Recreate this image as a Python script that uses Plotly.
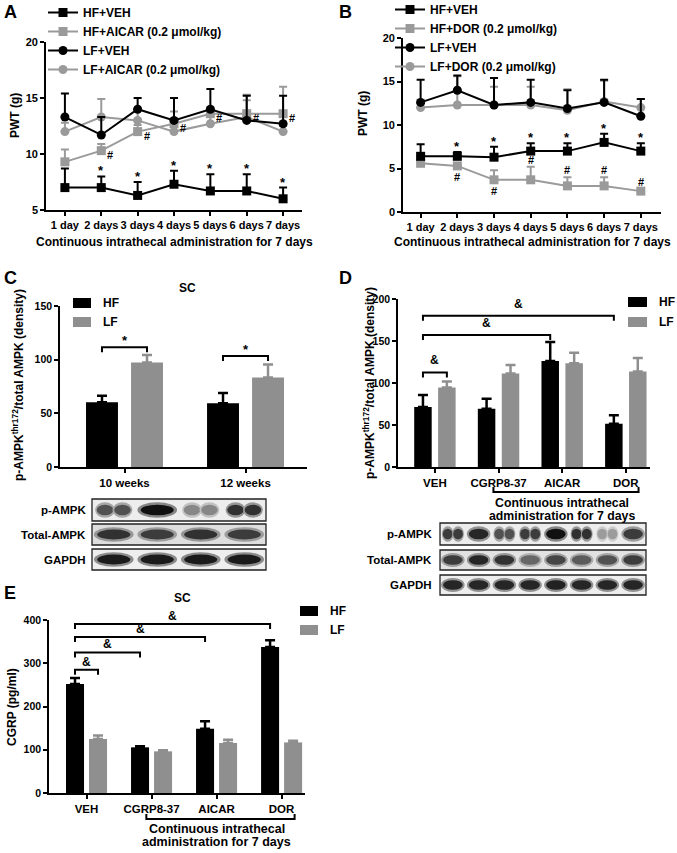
import plotly.graph_objects as go

W, H = 677, 853
FONT = "Arial, 'Liberation Sans', Helvetica, sans-serif"
BLACK = "#000000"
GREY = "#8f8f8f"
LGREY = "#9a9a9a"

# ---------------- data ----------------
days = ["1 day", "2 days", "3 days", "4 days", "5 days", "6 days", "7 days"]

# Panel A  (PWT, g)
a_hf_veh = [7.0, 7.0, 6.3, 7.3, 6.7, 6.7, 6.0]
a_hf_veh_err = [1.7, 1.0, 1.2, 1.2, 1.5, 1.5, 1.0]
a_hf_aicar = [9.3, 10.3, 12.0, 12.7, 13.6, 13.6, 13.6]
a_hf_aicar_err = [1.1, 0.6, 0.6, 1.1, 0.6, 1.7, 2.4]
a_lf_veh = [13.3, 11.7, 14.0, 13.0, 14.0, 13.0, 12.7]
a_lf_veh_err = [2.1, 1.6, 1.0, 2.0, 1.8, 2.2, 2.5]
a_lf_aicar = [12.0, 13.3, 13.0, 12.0, 12.7, 13.3, 12.0]
a_lf_aicar_err = [0.8, 1.6, 1.0, 1.0, 1.0, 1.5, 0.5]

# Panel B  (PWT, g)
b_hf_veh = [6.4, 6.4, 6.3, 7.0, 7.0, 8.0, 7.0]
b_hf_veh_err = [1.4, 0.5, 1.2, 0.9, 0.9, 1.0, 0.9]
b_hf_dor = [5.6, 5.3, 3.7, 3.7, 3.0, 3.0, 2.4]
b_hf_dor_err = [0.2, 0.2, 1.1, 1.5, 1.0, 1.0, 0.3]
b_lf_veh = [12.6, 14.0, 12.3, 12.6, 11.9, 12.6, 11.0]
b_lf_veh_err = [2.6, 1.7, 3.1, 2.6, 2.1, 2.6, 2.0]
b_lf_dor = [12.0, 12.3, 12.3, 12.3, 11.7, 12.7, 12.0]
b_lf_dor_err = [0.9, 3.3, 2.1, 2.1, 2.4, 2.4, 1.0]
b_hash_above = [False, False, False, True, True, True, True]

# Panel C  (p-AMPK / total AMPK)
c_groups = ["10 weeks", "12 weeks"]
c_hf = [60.4, 59.5]
c_hf_err = [6.0, 9.5]
c_lf = [97.3, 83.4]
c_lf_err = [7.0, 12.0]
c_bracket_level = [111.6, 103.5]

# Panel D
d_groups = ["VEH", "CGRP8-37", "AICAR", "DOR"]
d_hf = [71.3, 69.3, 126.3, 51.5]
d_hf_err = [14.5, 12.0, 22.5, 10.0]
d_lf = [94.7, 111.3, 123.6, 113.7]
d_lf_err = [7.0, 10.0, 12.5, 16.0]
d_brackets = [("VEH", "LF", 112.5), ("AICAR", "HF", 157.0), ("DOR", "HF", 180.0)]

# Panel E  (CGRP pg/ml)
e_groups = ["VEH", "CGRP8-37", "AICAR", "DOR"]
e_hf = [252.0, 105.6, 148.7, 337.6]
e_hf_err = [14.0, 2.5, 17.0, 15.4]
e_lf = [124.9, 96.3, 115.6, 117.0]
e_lf_err = [8.0, 2.5, 7.5, 4.0]
e_brackets = [("VEH", "LF", 285.0), ("CGRP8-37", "HF", 325.0), ("AICAR", "HF", 360.7), ("DOR", "HF", 390.7)]

# Western blots (relative band intensity per lane)
blot_rows = ["p-AMPK", "Total-AMPK", "GAPDH"]
blotC_p = [0.7, 1.0, 0.45, 0.85]
blotC_total = [0.85, 0.8, 0.85, 0.8]
blotC_gapdh = [0.95, 0.95, 0.95, 0.95]
blotC_doublet = [True, False, True, True]
blotD_p = [0.8, 0.9, 0.7, 0.8, 1.0, 0.85, 0.35, 0.8]
blotD_total = [0.8, 0.9, 0.85, 0.6, 0.75, 0.65, 0.7, 0.8]
blotD_gapdh = [0.9, 0.9, 0.9, 0.9, 0.92, 0.9, 0.9, 0.9]
blotD_doublet = [True, False, True, True, False, True, True, False]

# ---------------- helpers ----------------
def px_x(p):
    return p / W


def px_y(p):
    return 1 - p / H


GEO = {
    "A": dict(x=(46, 302), y=(42, 210), xr=[-0.52, 6.52], yr=[5, 20], ax="", dt=5),
    "B": dict(x=(403, 661), y=(38, 212), xr=[-0.48, 6.55], yr=[0, 20], ax="2", dt=5),
    "C": dict(x=(60, 307), y=(306, 467), xr=[-0.533, 1.508], yr=[0, 150], ax="3", dt=50),
    "D": dict(x=(398, 650), y=(299, 467), xr=[-0.58, 3.38], yr=[0, 200], ax="4", dt=50),
    "E": dict(x=(49, 305), y=(620, 793), xr=[-0.577, 3.36], yr=[0, 400], ax="5", dt=100),
}


def units_per_px(p):
    g = GEO[p]
    return (g["yr"][1] - g["yr"][0]) / (g["y"][1] - g["y"][0])


def fnt(size):
    return dict(size=size, family=FONT, color="black", weight="bold")


fig = go.Figure()
annotations = []
shapes = []


def pa(text, x, y, size=12, **kw):
    d = dict(text=text, x=px_x(x), y=px_y(y), xref="paper", yref="paper",
             xanchor="center", yanchor="middle", showarrow=False, font=fnt(size))
    d.update(kw)
    annotations.append(d)


def da(p, text, x, y, size=12, **kw):
    ax = GEO[p]["ax"]
    d = dict(text=text, x=x, y=y, xref="x" + ax, yref="y" + ax, showarrow=False,
             xanchor="center", yanchor="middle", font=fnt(size))
    d.update(kw)
    annotations.append(d)


# ---------------- line panels A & B ----------------
def line_trace(p, ys, err, name, color, symbol, leg, rank):
    ax = GEO[p]["ax"]
    n = len(ys)
    return go.Scatter(
        x=list(range(n)), y=ys, mode="lines+markers", name=name,
        line=dict(color=color, width=2),
        marker=dict(symbol=symbol, size=9, color=color),
        error_y=dict(type="data", symmetric=False, array=err, arrayminus=[0] * n,
                     color=color, thickness=2, width=4),
        xaxis="x" + ax, yaxis="y" + ax, legend=leg, legendrank=rank, cliponaxis=False)


# draw grey first, black on top; legend order via rank
fig.add_trace(line_trace("A", a_lf_aicar, a_lf_aicar_err, "LF+AICAR (0.2 μmol/kg)", LGREY, "circle", "legend", 4))
fig.add_trace(line_trace("A", a_hf_aicar, a_hf_aicar_err, "HF+AICAR (0.2 μmol/kg)", LGREY, "square", "legend", 2))
fig.add_trace(line_trace("A", a_lf_veh, a_lf_veh_err, "LF+VEH", BLACK, "circle", "legend", 3))
fig.add_trace(line_trace("A", a_hf_veh, a_hf_veh_err, "HF+VEH", BLACK, "square", "legend", 1))

fig.add_trace(line_trace("B", b_lf_dor, b_lf_dor_err, "LF+DOR (0.2 μmol/kg)", LGREY, "circle", "legend2", 4))
fig.add_trace(line_trace("B", b_hf_dor, b_hf_dor_err, "HF+DOR (0.2 μmol/kg)", LGREY, "square", "legend2", 2))
fig.add_trace(line_trace("B", b_lf_veh, b_lf_veh_err, "LF+VEH", BLACK, "circle", "legend2", 3))
fig.add_trace(line_trace("B", b_hf_veh, b_hf_veh_err, "HF+VEH", BLACK, "square", "legend2", 1))

# significance marks A
for i in range(1, len(days)):
    da("A", "*", i, a_hf_veh[i] + a_hf_veh_err[i], size=13, yanchor="bottom", yshift=-4)
    da("A", "#", i, a_hf_aicar[i], size=11, xshift=9, yshift=-4)
# significance marks B
for i in range(1, len(days)):
    da("B", "*", i, b_hf_veh[i] + b_hf_veh_err[i], size=13, yanchor="bottom", yshift=-4)
    if b_hash_above[i]:
        da("B", "#", i, b_hf_dor[i] + b_hf_dor_err[i], size=11, yanchor="bottom", yshift=-1)
    else:
        da("B", "#", i, b_hf_dor[i], size=11, yanchor="top", yshift=-3)

# ---------------- bar panels ----------------
BAR = {"C": dict(w=0.264, d=0.186), "D": dict(w=0.275, d=0.188), "E": dict(w=0.277, d=0.177)}


def bar_pair(p, hf, hf_err, lf, lf_err):
    ax = GEO[p]["ax"]
    w, d = BAR[p]["w"], BAR[p]["d"]
    n = len(hf)
    for name, vals, err, col, off in (("HF", hf, hf_err, BLACK, -d - w / 2),
                                      ("LF", lf, lf_err, GREY, d - w / 2)):
        fig.add_trace(go.Bar(
            x=list(range(n)), y=vals, width=w, offset=off, name=name,
            marker=dict(color=col, line=dict(width=0)),
            error_y=dict(type="data", symmetric=False, array=err, arrayminus=[0] * n,
                         color=col, thickness=2.5, width=5),
            xaxis="x" + ax, yaxis="y" + ax, showlegend=False))


bar_pair("C", c_hf, c_hf_err, c_lf, c_lf_err)
bar_pair("D", d_hf, d_hf_err, d_lf, d_lf_err)
bar_pair("E", e_hf, e_hf_err, e_lf, e_lf_err)


# manual key for bar panels (swatch + label)
def bar_key(x_sw, y_first, step, sw_w=18, sw_h=10, text_gap=10, size=12):
    for k, (name, col) in enumerate((("HF", BLACK), ("LF", GREY))):
        yc = y_first + k * step
        shapes.append(dict(type="rect", xref="paper", yref="paper",
                           x0=px_x(x_sw), x1=px_x(x_sw + sw_w),
                           y0=px_y(yc + sw_h / 2), y1=px_y(yc - sw_h / 2),
                           fillcolor=col, line=dict(width=0)))
        pa(name, x_sw + sw_w + text_gap, yc, size=size, xanchor="left")


bar_key(73, 303, 19)
bar_key(628, 302, 20, sw_w=19)
bar_key(300, 611, 19)


def bracket(p, x0, x1, level, text, tsize, tshift):
    ax = GEO[p]["ax"]
    tick = 5 * units_per_px(p)
    shapes.append(dict(type="path", xref="x" + ax, yref="y" + ax,
                       path=f"M{x0},{level - tick} L{x0},{level} L{x1},{level} L{x1},{level - tick}",
                       line=dict(color="black", width=2)))
    da(p, text, (x0 + x1) / 2, level, size=tsize, yanchor="bottom", yshift=tshift)


# C brackets: HF vs LF at each time
for i, lvl in enumerate(c_bracket_level):
    bracket("C", i - BAR["C"]["d"], i + BAR["C"]["d"], lvl, "*", 13, -3)


# D / E brackets: from VEH-HF to target bar
def group_bracket(p, groups, spec, tshift):
    d = BAR[p]["d"]
    for g, grp, lvl in spec:
        j = groups.index(g)
        xe = j + d if grp == "LF" else j - d
        bracket(p, -d, xe, lvl, "&", 12, tshift)


group_bracket("D", d_groups, d_brackets, 3)
group_bracket("E", e_groups, e_brackets, -1)


# "Continuous intrathecal administration" bottom bracket (D, E)
def admin_bracket(p, groups, y_line, y_t1, y_t2, size):
    ax = GEO[p]["ax"]
    x0 = groups.index("CGRP8-37") - 0.08
    x1 = groups.index("DOR") + 0.2
    yl = px_y(y_line)
    yt = px_y(y_line - 5)
    shapes.append(dict(type="path", xref="x" + ax, yref="paper",
                       path=f"M{x0},{yt} L{x0},{yl} L{x1},{yl} L{x1},{yt}",
                       line=dict(color="black", width=2)))
    xc = groups.index("AICAR")
    for txt, yy in (("Continuous intrathecal", y_t1), ("administration for 7 days", y_t2)):
        annotations.append(dict(text=txt, x=xc, y=px_y(yy), xref="x" + ax, yref="paper",
                                xanchor="center", yanchor="middle", showarrow=False, font=fnt(size)))


admin_bracket("D", d_groups, 492, 503, 515.5, 12.3)
admin_bracket("E", e_groups, 819, 829, 842, 12.5)


# ---------------- western blots ----------------
def draw_blot(x0, x1, rows_px, label_right, lanes_rows, doublet, bgs, label_size):
    n = len(lanes_rows[0])
    lw = (x1 - x0) / n
    for r, (yt, yb) in enumerate(rows_px):
        shapes.append(dict(type="rect", xref="paper", yref="paper",
                           x0=px_x(x0), x1=px_x(x1), y0=px_y(yb), y1=px_y(yt),
                           fillcolor=bgs[r], line=dict(color="#222222", width=1.3), layer="above"))
        pa(blot_rows[r], label_right, (yt + yb) / 2, size=label_size, xanchor="right")
        rh = yb - yt
        yc = (yt + yb) / 2
        for i, inten in enumerate(lanes_rows[r]):
            cx = x0 + (i + 0.5) * lw
            lev = int(232 - inten * 215)
            halo = int((232 + lev) / 2 + 10)
            if r == 0 and doublet[i]:
                parts = [(cx - 0.2 * lw, 0.19 * lw), (cx + 0.2 * lw, 0.19 * lw)]
            else:
                parts = [(cx, 0.38 * lw)]
            for (bx, hw) in parts:
                hh = 0.24 * rh
                shapes.append(dict(type="circle", xref="paper", yref="paper",
                                   x0=px_x(bx - hw * 1.2), x1=px_x(bx + hw * 1.2),
                                   y0=px_y(yc + hh * 1.45), y1=px_y(yc - hh * 1.45),
                                   fillcolor=f"rgb({halo},{halo},{halo})", line=dict(width=0), layer="above"))
                shapes.append(dict(type="circle", xref="paper", yref="paper",
                                   x0=px_x(bx - hw), x1=px_x(bx + hw),
                                   y0=px_y(yc + hh), y1=px_y(yc - hh),
                                   fillcolor=f"rgb({lev},{lev},{lev})", line=dict(width=0), layer="above"))


draw_blot(92, 266, [(499, 521), (524, 545), (549, 570)], 88,
          [blotC_p, blotC_total, blotC_gapdh], blotC_doublet,
          ["#ededed", "#dedede", "#eeeeee"], 11.5)
draw_blot(440, 646, [(523, 545), (550, 570), (575, 595)], 434,
          [blotD_p, blotD_total, blotD_gapdh], blotD_doublet,
          ["#ececec", "#e2e2e2", "#eeeeee"], 11.5)

# ---------------- texts ----------------
for t, x, y in (("A", 10, 12), ("B", 345, 12), ("C", 10, 278), ("D", 345, 278), ("E", 10, 593)):
    pa(t, x, y, size=18)
pa("SC", 187, 288, size=12)
pa("SC", 183, 598, size=12)
pa("Continuous intrathecal administration for 7 days", 174, 242, size=12)
pa("Continuous intrathecal administration for 7 days", 532, 242, size=12)
pa("PWT (g)", 15, 116, size=12, textangle=-90)
pa("PWT (g)", 363, 114, size=12, textangle=-90)
pa("p-AMPK<sup>thr172</sup>/total AMPK (density)", 18, 385, size=12, textangle=-90)
pa("p-AMPK<sup>thr172</sup>/total AMPK (density)", 369, 383, size=12, textangle=-90)
pa("CGRP (pg/ml)", 12, 707, size=12, textangle=-90)

# ---------------- axes ----------------
layout_axes = {}
xticks = {"A": days, "B": days, "C": c_groups, "D": d_groups, "E": e_groups}
for p, g in GEO.items():
    ax = g["ax"]
    xs = "xaxis" + ax
    ys = "yaxis" + ax
    xfont = 11 if p in ("A", "B") else 11.5
    yfont = 11 if p in ("A", "B") else 10.5
    common = dict(showline=True, linecolor="black", linewidth=1.6, ticks="outside", ticklen=4,
                  tickwidth=1.6, tickcolor="black", showgrid=False, zeroline=False, fixedrange=True)
    layout_axes[xs] = dict(domain=[px_x(g["x"][0]), px_x(g["x"][1])], range=g["xr"],
                           tickmode="array", tickvals=list(range(len(xticks[p]))), ticktext=xticks[p],
                           anchor="y" + ax, tickfont=fnt(xfont), **common)
    layout_axes[ys] = dict(domain=[px_y(g["y"][1]), px_y(g["y"][0])], range=g["yr"],
                           tick0=0, dtick=g["dt"], anchor="x" + ax, tickfont=fnt(yfont), **common)


def leg(x, y, size=12):
    return dict(x=px_x(x), y=px_y(y), xanchor="left", yanchor="top", bgcolor="rgba(0,0,0,0)",
                font=fnt(size), traceorder="normal", borderwidth=0)


fig.update_layout(
    width=W, height=H, autosize=False,
    margin=dict(l=0, r=0, t=0, b=0, autoexpand=False),
    paper_bgcolor="white", plot_bgcolor="white",
    font=dict(family=FONT, color="black", weight="bold"),
    showlegend=True,
    legend=leg(43, -2),
    legend2=leg(390, -5),
    annotations=annotations,
    shapes=shapes,
    **layout_axes,
)

fig.write_html("out.html", config={"displayModeBar": False},
               post_script="document.body.style.margin='0';document.body.style.padding='0';")
